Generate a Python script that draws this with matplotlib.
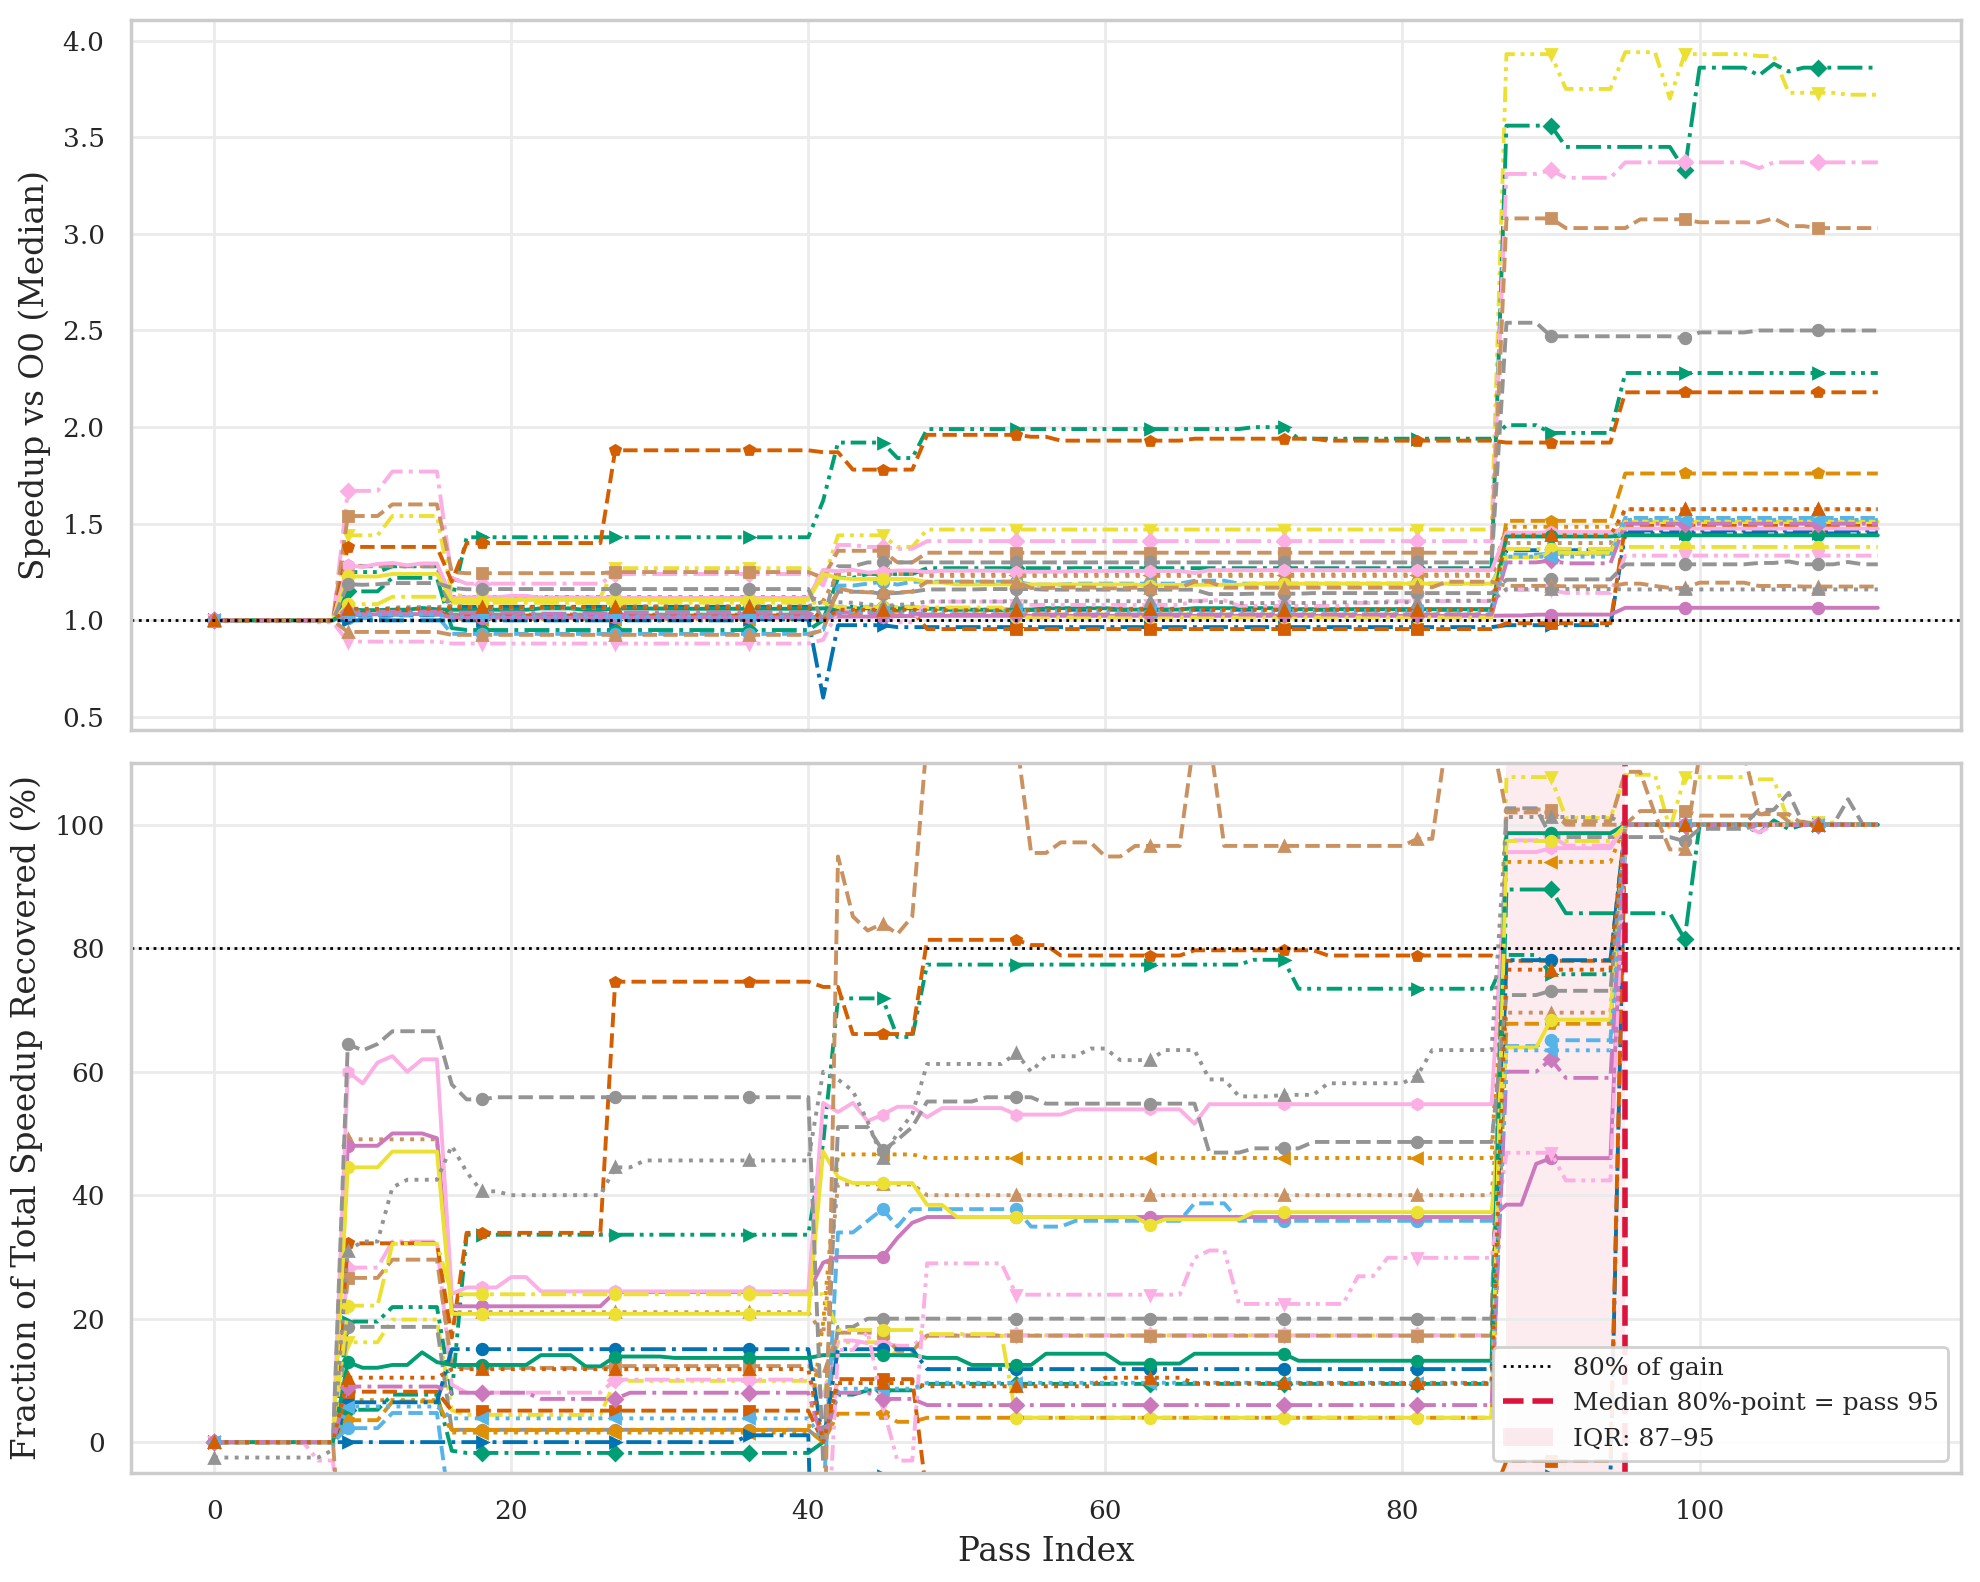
import matplotlib
matplotlib.use("Agg")
import matplotlib.pyplot as plt
import numpy as np
import seaborn as sns

N_PASSES = 113

# speedup vs O0 per benchmark, as (first pass, value) steps
yel_tri = [(0, 1.0), (9, 1.44), (12, 1.54), (16, 1.14), (17, 1.12), (27, 1.27), (41, 1.2), (42, 1.44), (46, 1.38),
           (48, 1.47), (87, 3.93), (91, 3.75), (95, 3.94), (98, 3.70), (99, 3.93), (104, 3.92), (106, 3.73), (110, 3.72)]
grn_dia = [(0, 1.0), (9, 1.15), (12, 1.22), (16, 0.96), (17, 0.95), (41, 1.0), (42, 1.22), (44, 1.24), (48, 1.27),
           (87, 3.56), (91, 3.45), (99, 3.33), (100, 3.86), (104, 3.82), (105, 3.88), (106, 3.84), (107, 3.86)]
grn_right = [(0, 1.0), (9, 1.25), (12, 1.28), (16, 1.10), (17, 1.43), (41, 1.62), (42, 1.92), (46, 1.84), (48, 1.99),
             (70, 2.0), (73, 1.94), (87, 2.01), (90, 1.97), (95, 2.28)]
pnk_dia = [(0, 1.0), (9, 1.67), (12, 1.77), (16, 1.22), (17, 1.19), (27, 1.24), (41, 1.18), (42, 1.39), (44, 1.38),
           (46, 1.37), (48, 1.41), (87, 3.31), (90, 3.33), (91, 3.29), (95, 3.37), (104, 3.34), (105, 3.37)]
brn_sq = [(0, 1.0), (9, 1.54), (12, 1.60), (16, 1.25), (17, 1.244), (27, 1.25), (41, 1.22), (42, 1.36), (46, 1.30),
          (48, 1.35), (87, 3.08), (91, 3.03), (96, 3.075), (100, 3.06), (105, 3.08), (106, 3.04), (108, 3.03)]
gry_hi = [(0, 1.0), (9, 1.28), (16, 1.03), (41, 1.0), (42, 1.28), (44, 1.30), (87, 2.54), (90, 2.47), (99, 2.46),
          (100, 2.49), (104, 2.50)]
red_pent = [(0, 1.0), (9, 1.38), (16, 1.2), (17, 1.40), (27, 1.88), (41, 1.87), (43, 1.78), (48, 1.96), (55, 1.95),
            (57, 1.93), (66, 1.94), (75, 1.93), (87, 1.92), (95, 2.18)]
org_pent = [(0, 1.0), (9, 1.027), (12, 1.05), (16, 1.015), (41, 1.0), (42, 1.035), (46, 1.025), (48, 1.03),
            (87, 1.515), (95, 1.76)]
org_left = [(0, 1.0), (9, 1.035), (16, 1.008), (41, 1.1), (42, 1.24), (48, 1.237), (87, 1.484), (95, 1.515)]
brn_tri = [(0, 1.0), (9, 1.282), (16, 1.121), (41, 1.1), (42, 1.24), (48, 1.23), (87, 1.40), (95, 1.575)]
lbl_dash = [(0, 1.0), (9, 1.012), (12, 1.025), (16, 0.93), (41, 0.95), (42, 1.18), (44, 1.19), (45, 1.2),
            (46, 1.185), (47, 1.2), (55, 1.185), (58, 1.19), (66, 1.205), (69, 1.19), (87, 1.34), (90, 1.345),
            (95, 1.53)]
blu_circ = [(0, 1.0), (9, 1.03), (16, 1.07), (41, 1.0), (42, 1.07), (48, 1.055), (87, 1.363), (95, 1.465)]
blu_right = [(0, 1.0), (36, 1.005), (41, 0.60), (42, 0.975), (46, 0.965), (87, 0.975), (95, 1.45)]
red_sq = [(0, 1.0), (9, 1.04), (16, 1.025), (41, 1.0), (42, 1.05), (48, 0.955), (87, 0.985), (95, 1.49)]
mag_solid = [(0, 1.0), (9, 1.0312), (12, 1.0325), (15, 1.032), (16, 1.0143), (27, 1.0158), (41, 1.0189),
             (42, 1.0195), (46, 1.0215), (47, 1.0231), (48, 1.0237), (87, 1.025), (89, 1.0293), (90, 1.0299),
             (95, 1.065)]
pnk_solid = [(0, 1.0), (9, 1.285), (10, 1.276), (11, 1.292), (12, 1.297), (13, 1.285), (14, 1.2945), (16, 1.114),
             (17, 1.119), (20, 1.127), (22, 1.116), (41, 1.261), (42, 1.254), (43, 1.261), (44, 1.247), (45, 1.252),
             (46, 1.258), (48, 1.25), (49, 1.257), (54, 1.252), (58, 1.256), (66, 1.245), (67, 1.26), (87, 1.454),
             (90, 1.457), (95, 1.475)]
yel_solid = [(0, 1.0), (9, 1.227), (12, 1.24), (16, 1.106), (41, 1.24), (42, 1.219), (43, 1.214), (48, 1.196),
             (50, 1.186), (63, 1.179), (64, 1.184), (70, 1.19), (87, 1.326), (90, 1.349), (95, 1.51)]
grn_solid = [(0, 1.0), (9, 1.057), (10, 1.053), (12, 1.055), (14, 1.064), (15, 1.057), (16, 1.055), (22, 1.062),
             (25, 1.054), (27, 1.061), (31, 1.06), (41, 1.062), (48, 1.06), (51, 1.055), (56, 1.063), (61, 1.056),
             (66, 1.063), (73, 1.058), (87, 1.434), (95, 1.44)]
yel_dd = [(0, 1.0), (9, 1.084), (12, 1.122), (16, 1.091), (42, 1.069), (48, 1.0665), (54, 1.015), (87, 1.37),
          (95, 1.38)]
pnk_tri = [(0, 1.0), (7, 0.99), (9, 0.89), (16, 0.88), (41, 0.9), (42, 1.05), (44, 1.06), (45, 1.02), (46, 0.99),
           (48, 1.097), (54, 1.08), (66, 1.10), (67, 1.104), (69, 1.075), (77, 1.09), (79, 1.10), (87, 1.157),
           (91, 1.142), (95, 1.335)]
gry_lo = [(0, 1.0), (9, 1.187), (10, 1.184), (11, 1.187), (12, 1.193), (16, 1.168), (17, 1.161), (19, 1.162),
          (41, 0.99), (42, 1.148), (45, 1.137), (46, 1.142), (47, 1.148), (48, 1.16), (52, 1.162), (56, 1.159),
          (67, 1.136), (70, 1.138), (74, 1.141), (87, 1.21), (90, 1.212), (95, 1.29), (104, 1.297), (106, 1.305),
          (107, 1.29), (110, 1.302), (111, 1.29)]
brn_dash = [(0, 1.0), (9, 0.94), (16, 0.925), (41, 0.95), (42, 1.166), (43, 1.149), (44, 1.145), (45, 1.147),
            (46, 1.144), (47, 1.149), (48, 1.20), (55, 1.167), (57, 1.17), (60, 1.166), (62, 1.169), (66, 1.20),
            (68, 1.169), (81, 1.171), (83, 1.20), (87, 1.1785), (91, 1.176), (95, 1.19), (97, 1.178), (98, 1.168),
            (100, 1.195), (104, 1.178), (107, 1.175)]
gry_tri = [(0, 0.996), (8, 0.998), (9, 1.0496), (10, 1.052), (12, 1.066), (13, 1.068), (16, 1.0768), (17, 1.07),
           (18, 1.065), (20, 1.064), (27, 1.0712), (29, 1.073), (41, 1.096), (42, 1.094), (43, 1.091), (44, 1.083),
           (45, 1.0736), (46, 1.08), (47, 1.085), (48, 1.098), (54, 1.1008), (55, 1.096), (56, 1.1), (59, 1.102),
           (61, 1.099), (64, 1.1016), (67, 1.094), (69, 1.0896), (72, 1.09), (75, 1.093), (81, 1.095),
           (82, 1.1016), (87, 1.162), (95, 1.16)]
mag_dia = [(0, 1.0), (9, 1.045), (16, 1.04), (22, 1.035), (28, 1.04), (41, 1.0), (42, 1.04), (45, 1.035),
           (48, 1.03), (87, 1.30), (90, 1.31), (91, 1.295), (95, 1.50)]
lbl_dot = [(0, 1.0), (9, 1.03), (16, 1.02), (41, 1.0), (42, 1.045), (48, 1.05), (87, 1.33), (95, 1.52)]
red_dot = [(0, 1.0), (9, 1.06), (16, 1.068), (41, 1.0), (42, 1.055), (48, 1.052), (60, 1.06), (66, 1.055),
           (87, 1.44), (95, 1.575)]

series_steps = [yel_tri, grn_dia, grn_right, pnk_dia, brn_sq, gry_hi, red_pent, org_pent, org_left, brn_tri,
                lbl_dash, blu_circ, blu_right, red_sq, mag_solid, pnk_solid, yel_solid, grn_solid, yel_dd,
                pnk_tri, gry_lo, brn_dash, gry_tri, mag_dia, lbl_dot, red_dot]

DDOT = (0, (4, 1.5, 1, 1.5, 1, 1.5))
line_colors = ["#ece133", "#029e73", "#029e73", "#fbafe4", "#ca9161", "#949494", "#d55e00", "#de8f05", "#de8f05",
               "#ca9161", "#56b4e9", "#0173b2", "#0173b2", "#d55e00", "#cc78bc", "#fbafe4", "#ece133", "#029e73",
               "#ece133", "#fbafe4", "#949494", "#ca9161", "#949494", "#cc78bc", "#56b4e9", "#d55e00"]
line_styles = [DDOT, "-.", DDOT, "-.", "--", "--", "--", "--", ":", ":", "--", "-.", "-.", "--", "-", "-", "-", "-",
               "-.", DDOT, "--", "--", ":", "-.", ":", ":"]
line_markers = ["v", "D", ">", "D", "s", "o", "p", "p", "<", "^", "o", "o", ">", "s", "o", "h", "o", "o", "o",
                "v", "o", "^", "^", "D", "<", "^"]

median_pass = 95
iqr_low, iqr_high = 87, 95
gain_threshold = 80


def expand(steps: list[tuple[int, float]]) -> np.ndarray:
    values = np.empty(N_PASSES)
    ends = [start for start, _ in steps[1:]] + [N_PASSES]
    for (start, value), end in zip(steps, ends):
        values[start:end] = value
    return values


def main() -> None:
    sns.set_theme(style="whitegrid")
    plt.rcParams["font.family"] = ["DejaVu Serif"]
    plt.rcParams["axes.edgecolor"] = "#cccccc"
    plt.rcParams["grid.color"] = "#ebebeb"

    fig = plt.figure(figsize=(9.905, 7.91), dpi=200)
    ax_top = fig.add_axes([0.0661, 0.5386, 0.9238, 0.4488])
    ax_bot = fig.add_axes([0.0661, 0.0689, 0.9238, 0.4488], sharex=ax_top)

    passes = np.arange(N_PASSES)
    for steps, color, style, marker in zip(series_steps, line_colors, line_styles, line_markers):
        speedup = expand(steps)
        fraction = (speedup - 1.0) / (speedup[-1] - 1.0) * 100.0
        kw = dict(color=color, linestyle=style, marker=marker, markevery=9, markersize=3.8, linewidth=1.4)
        ax_top.plot(passes, speedup, **kw)
        ax_bot.plot(passes, fraction, **kw)

    ax_top.axhline(1.0, color="black", linestyle=":", linewidth=1.0)
    ax_top.set_ylabel("Speedup vs O0 (Median)", fontsize=11.8)
    ax_top.set_yticks(np.arange(0.5, 4.01, 0.5))
    ax_top.tick_params(axis="x", labelbottom=False)
    ax_top.tick_params(labelsize=9.5)

    ax_bot.axhline(gain_threshold, color="black", linestyle=":", linewidth=1.0, label="80% of gain")
    ax_bot.axvline(median_pass, color="crimson", linestyle="--", linewidth=2.0,
                   label=f"Median 80%-point = pass {median_pass}")
    ax_bot.axvspan(iqr_low, iqr_high, color="crimson", alpha=0.08, linewidth=0, zorder=0,
                   label=f"IQR: {iqr_low}\u2013{iqr_high}")
    ax_bot.set_ylim(-5, 110)
    ax_bot.set_xlim(-5.6, 117.6)
    ax_bot.set_xticks(np.arange(0, 101, 20))
    ax_bot.set_ylabel("Fraction of Total Speedup Recovered (%)", fontsize=11.8)
    ax_bot.set_xlabel("Pass Index", fontsize=11.8)
    ax_bot.tick_params(labelsize=9.5)
    ax_bot.legend(loc="lower right", fontsize=9.0, framealpha=0.9)

    fig.savefig("out.png", dpi=200)
    plt.close(fig)


if __name__ == "__main__":
    main()
